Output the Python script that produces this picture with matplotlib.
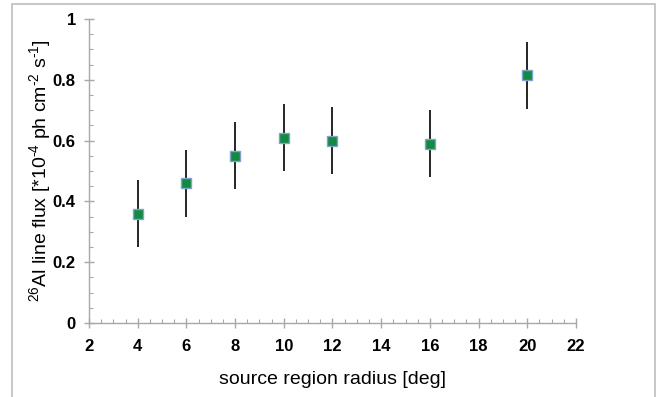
import matplotlib
matplotlib.use('Agg')
import matplotlib.pyplot as plt
from matplotlib.patches import Rectangle
from matplotlib.ticker import MultipleLocator

# datos
radio = [4, 6, 8, 10, 12, 16, 20]
flujo = [0.36, 0.46, 0.55, 0.61, 0.60, 0.59, 0.815]
error = [0.11, 0.11, 0.11, 0.11, 0.11, 0.11, 0.11]

plt.rcParams['font.family'] = ['Liberation Sans', 'DejaVu Sans']
plt.rcParams['mathtext.default'] = 'regular'

fig = plt.figure(figsize=(6.68, 3.97), dpi=100)
ax = fig.add_axes([0.1332, 0.1864, 0.7291, 0.7657])

# marco gris alrededor de la figura
fig.patches.append(Rectangle((12 / 668, -0.05), (655 - 12) / 668, 1 - 4 / 397 + 0.05,
                             transform=fig.transFigure, fill=False,
                             edgecolor='#bdbdbd', linewidth=1.2))

ax.errorbar(radio, flujo, yerr=error, fmt='s', color='#138a44', ecolor='black',
            elinewidth=1.2, capsize=0, markersize=7, markeredgecolor='#7fa3cc',
            markeredgewidth=1.0, zorder=3)

ax.set_xlim(2, 22)
ax.set_ylim(0, 1)
ax.xaxis.set_major_locator(MultipleLocator(2))
ax.xaxis.set_minor_locator(MultipleLocator(0.5))
ax.yaxis.set_minor_locator(MultipleLocator(0.05))
ax.set_yticks([0, 0.2, 0.4, 0.6, 0.8, 1.0])
ax.set_yticklabels(['0', '0.2', '0.4', '0.6', '0.8', '1'])

for s in ['top', 'right']:
    ax.spines[s].set_visible(False)
for s in ['left', 'bottom']:
    ax.spines[s].set_color('#a8a8a8')
    ax.spines[s].set_linewidth(1.0)

ax.tick_params(which='major', direction='inout', length=7, width=1.0, color='#a8a8a8',
               labelsize=12)
ax.tick_params(axis='x', which='major', pad=8)
ax.tick_params(axis='y', which='major', pad=6)
ax.tick_params(which='minor', direction='in', length=3, width=0.8, color='#a8a8a8')
for lbl in ax.get_xticklabels() + ax.get_yticklabels():
    lbl.set_fontweight('bold')

ax.set_xlabel('source region radius [deg]', fontsize=14, labelpad=12)
ax.set_ylabel('$^{26}$Al line flux [*10$^{\u20104}$ ph cm$^{\u20102}$ s$^{\u20101}$]',
              fontsize=14, labelpad=0)

fig.savefig('out.png', dpi=100)
